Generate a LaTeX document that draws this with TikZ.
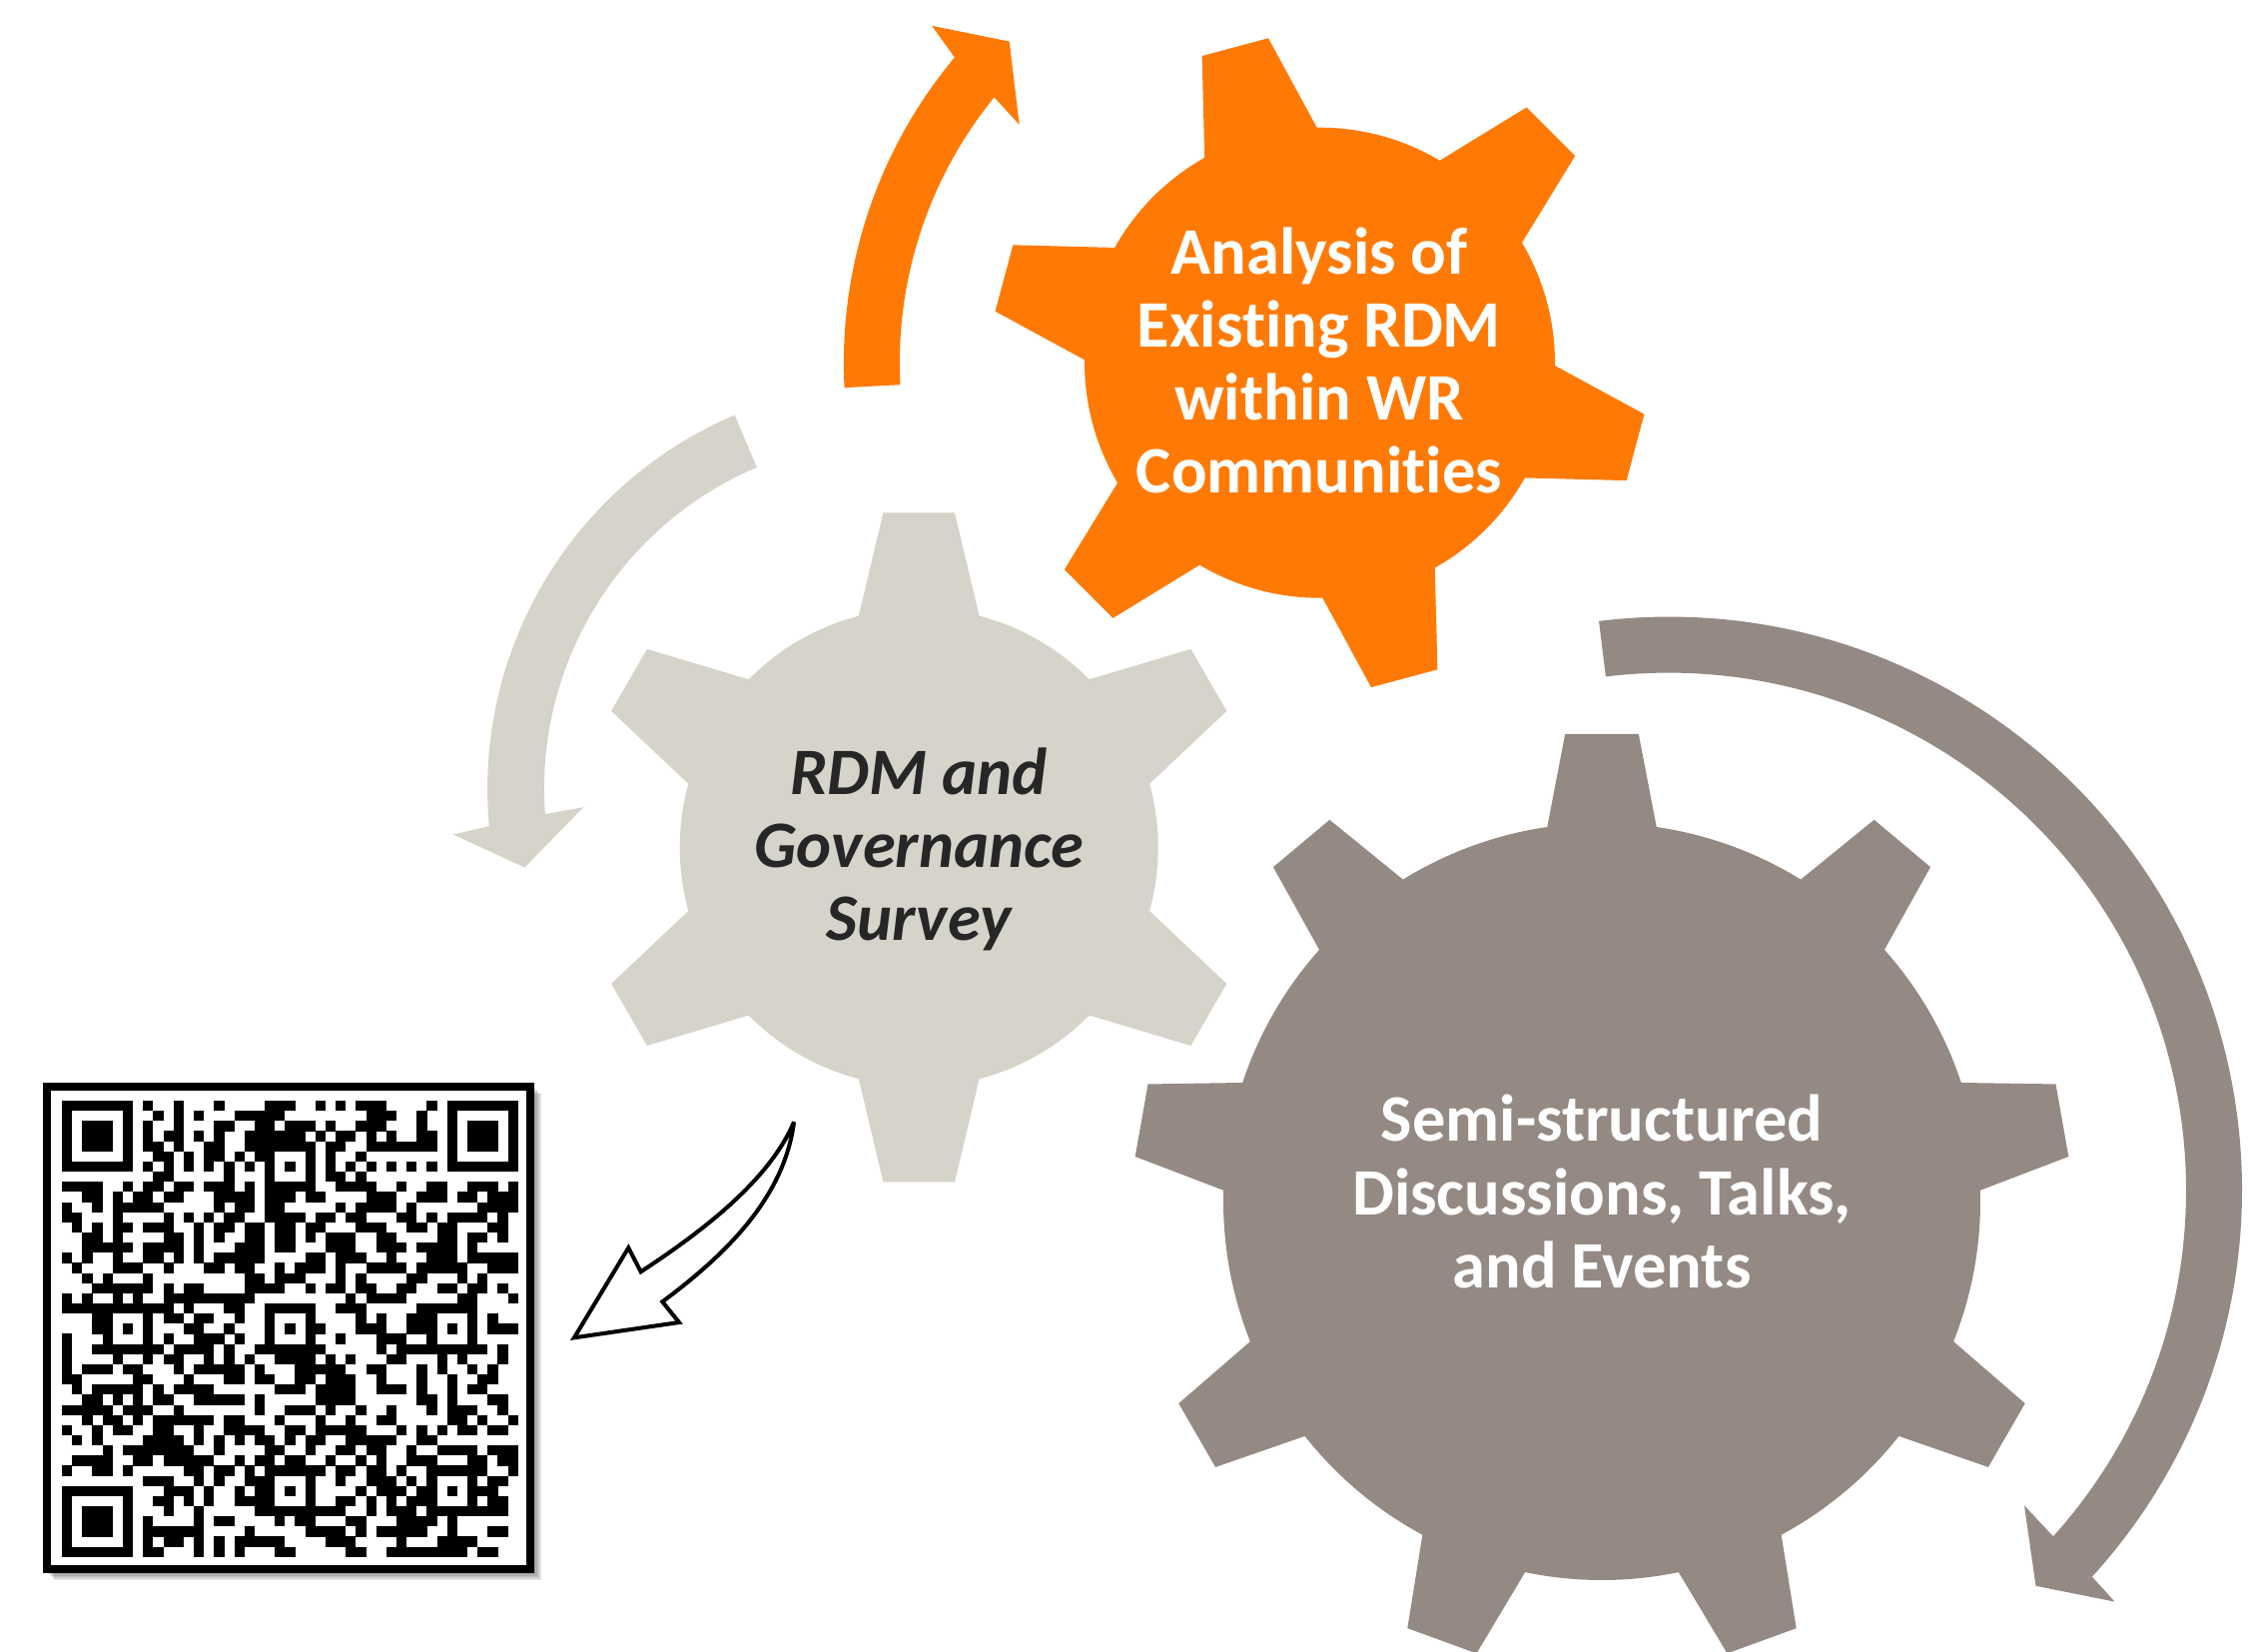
\documentclass[tikz,border=0pt]{standalone}
\usepackage{fontspec}
\setmainfont[Ligatures=NoCommon]{Carlito}
\definecolor{gearorange}{HTML}{FF7A05}
\definecolor{gearlight}{HTML}{D5D3CA}
\definecolor{geartaupe}{HTML}{948983}
\definecolor{textdark}{HTML}{262626}
\tikzset{
  gearlabel/.style={align=center,text=white,font=\fontsize{18.9}{20.8}\selectfont\bfseries},
  qrcell/.style={fill=black}
}
%%% style, centre, root radius, tip radius, teeth, first tooth angle, half width at root, half width at tip
\newcommand{\gearfill}[8]{%
  \fill[#1] ([shift={(#2)}]{#6-#7}:#3)
    \foreach \k [evaluate=\k as \a using #6+(\k-1)*360/#5] in {1,...,#5} {
      -- ([shift={(#2)}]{\a-#7}:#3) -- ([shift={(#2)}]{\a-#8}:#4)
      -- ([shift={(#2)}]{\a+#8}:#4) -- ([shift={(#2)}]{\a+#7}:#3)
      arc[start angle={\a+#7},end angle={\a+360/#5-#7},radius=#3]
    } -- cycle;
}
%%% style, centre, outer radius, inner radius, tail angle, end angle (outer), end angle (inner), head points
\newcommand{\ringarrow}[8]{%
  \fill[#1] ([shift={(#2)}]#5:#3) arc[start angle=#5,end angle=#6,radius=#3]
    #8 -- ([shift={(#2)}]#7:#4) arc[start angle=#7,end angle=#5,radius=#4] -- cycle;
}
%%% the code, one string per row
\def\qrdata{%
111111101001000100001110010101110000101111111,
100000100101010001111100000000111001001000001,
101110101001000110011011101001110001001011101,
101110101011010100111111010110101001101011101,
101110101101001100111111101100111111101011101,
100000100110101101011000101001000000001000001,
111111101010101010101010101010101010101111111,
000000000110000010001000101101000000000000000,
111100101101101110101111100111100100110011101,
001101011011000111101110110000111001110110111,
100101111100000101101100000101111010000001111,
110001000010101011001111011011000110101111010,
010101101110010110110110110001110011011000110,
001101000011010100110110101110011000011011010,
001111101111010001110110001110011101111010000,
101001001101010111110000110111001000111011111,
010001110010001101100101110100111101111100111,
001010001000000000110111000101000011000101000,
000111111010110000111100101101100110011011010,
101001010011111111100000000010111100000110001,
111111111110100011001111100111000001111110000,
000110001011011001001000100001010011100010100,
000110101000110010001010110001110011101010111,
100010001010011101001000100100011100100010000,
100111111101111010011111110000010111111111010,
100001001011001010100111101010001100010100010,
101110110001011111010001111100110001010010100,
110000011000100011011001101110010001001001100,
010111110101111000000111011110011101001011000,
001101010110011111010000011110000001101000110,
111110111001000000010011101001001000101110010,
001011010111111011000100010010011000001101001,
100101100110010011110011011111000101010110110,
010100001111010101011010110011111001100000000,
000010111111100100001100100110110010011110111,
011110011011111001011011001001010011100011011,
100110100000110110101111110110110100111111001,
000000001110010100111000100100111010100010110,
111111100011101001011010100001011101101011100,
100000100110101001111000100110101011100010110,
101110100010010000011111111100101110111111110,
101110101000010110000101100011000111101000000,
101110101111110000100000111101011111001000110,
100000101011010101111100001110000100011110000,
111111101100010101000110000011001111111101100}
\newcount\qrcol
\def\qrscan#1{\ifx#1;\else\if#11\fill[qrcell] ({62+10.15*\the\qrcol},{551-10.15*\qry}) rectangle ++(10.25,-10.25);\fi\advance\qrcol by 1 \expandafter\qrscan\fi}
\begin{document}
\begin{tikzpicture}[x=0.01cm,y=0.01cm]
\useasboundingbox (0,0) rectangle (2251,1653);
\coordinate (orangegear) at (1321.5,1289.8);
\coordinate (surveygear) at (920.2,804.6);
\coordinate (talksgear) at (1604,450);
\coordinate (surveyring) at (894.4,863.4);
\coordinate (talksring) at (1671,461.4);
%%% the three gears
\gearfill{gearorange}{orangegear}{235.5}{329}{6}{105}{14.3}{6}
\gearfill{gearlight}{surveygear}{239.5}{337}{6}{90}{14.6}{6.1}
\gearfill{geartaupe}{talksgear}{379}{469.5}{9}{90}{8.3}{4.5}
%%% the ring arrows
\ringarrow{gearorange}{orangegear}{476.6}{420.6}{183}{140.1}{140.8}{-- (933.1,1627.2) -- (1010.7,1611.4) -- (1020.7,1528.1)}
\ringarrow{gearlight}{surveyring}{406.3}{349.5}{113}{185.3}{184.2}{-- (453.6,817.5) -- (525.4,784.5) -- (584.3,844.8)}
\ringarrow{geartaupe}{talksring}{574}{518}{97}{-42.4}{-42}{-- (2117.5,49.4) -- (2038.5,65.2) -- (2027,145.6)}
%%% labels
\node[gearlabel] (existing) at (1321,1292) {Analysis of\\Existing RDM\\within WR\\Communities};
\node[gearlabel,text=textdark,font=\fontsize{18.9}{20.8}\selectfont\bfseries\itshape] (survey) at (920.2,802.5) {RDM and\\Governance\\Survey};
\node[gearlabel] (talks) at (1604,460) {Semi-structured\\Discussions, Talks,\\and Events};
%%% the curved arrow to the code
\draw[line width=1.15pt,fill=white,miter limit=3] (575,313.7) -- (629.3,403.7) -- (641.7,379.7)
  .. controls (700,418) and (770,470) .. (795,529.7)
  .. controls (785,450) and (720,392) .. (663.3,349.7)
  -- (680,329) -- cycle;
%%% shadow, frame and cells of the code
\foreach \s in {1,2.5,4,5.5,7}
  \fill[black,opacity=.09] ({47+\s},{565-\s}) rectangle ({535+\s},{78-\s});
\draw[line width=0.08cm,fill=white] (47,565) rectangle (531,82);
\foreach \qrrow [count=\qry from 0] in \qrdata {\qrcol=0 \expandafter\qrscan\qrrow;}
\end{tikzpicture}
\end{document}
